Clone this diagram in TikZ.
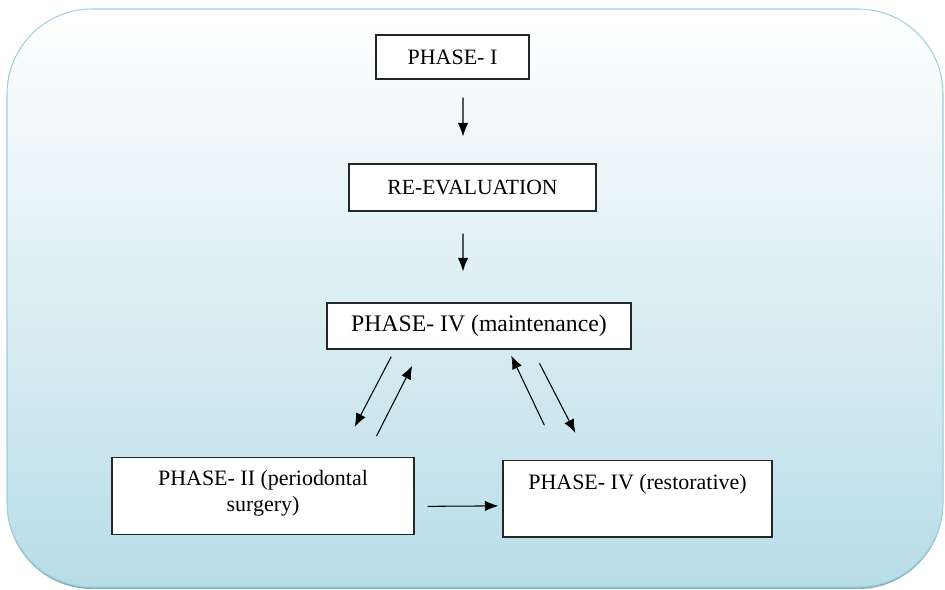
\documentclass[tikz,border=0pt]{standalone}
\usepackage{fontspec}
\setmainfont{Liberation Serif}
\usepackage{tikz}
\usetikzlibrary{arrows.meta,positioning,calc}
\definecolor{panelblue}{RGB}{184,221,232}
\definecolor{paneledge}{RGB}{160,208,221}
\definecolor{panelshadow}{RGB}{128,176,192}
\tikzset{
    phase/.style={rectangle, draw=black!85, fill=white, line width=0.7pt, inner sep=0pt, font=\fontsize{12.5}{14.5}\selectfont},
    phaseT/.style={phase, align=center, text height=16.5pt, text depth=27pt},
    link/.style={line width=0.6pt, black, -{Latex[length=0.27cm,width=0.21cm]}},
}

\begin{document}
\begin{tikzpicture}[x=0.02cm, y=-0.02cm]
    \useasboundingbox (0,0) rectangle (945,589);
    % panel behind the chart
    \fill[panelshadow, rounded corners=1.7cm] (7,11) rectangle (943,589);
    \shade[top color=white, middle color=panelblue!35, bottom color=panelblue, draw=paneledge, line width=0.6pt, rounded corners=1.7cm] (7,9) rectangle (943,587);

    \node[phase, minimum width=3.06cm, minimum height=0.88cm] (p1) at (452.5,57) {PHASE- I};
    \node[phase, minimum width=4.94cm, minimum height=0.94cm, font=\fontsize{12.3}{14}\selectfont] (reeval) at (472.5,187.5) {RE-EVALUATION};
    \node[phase, minimum width=6.08cm, minimum height=0.92cm, font=\fontsize{13.5}{16}\selectfont] (maint) at (479,326) {PHASE- IV (maintenance)};
    \node[phaseT, minimum width=6.04cm, text height=30.6pt, text depth=13pt, anchor=north] (surg) at (263,457) {PHASE- II (periodontal\\surgery)};
    \node[phaseT, minimum width=5.38cm, anchor=north] (restor) at (637.5,460) {PHASE- IV (restorative)};

    \draw[link, shorten <=0.36cm, shorten >=0.54cm] ([xshift=0.21cm]p1.south) -- ([xshift=-0.19cm]reeval.north);
    \draw[link, shorten <=0.44cm, shorten >=0.62cm] ([xshift=-0.19cm]reeval.south) -- ([xshift=-0.32cm]maint.north);

    % between maintenance and the two lower phases
    \draw[link, shorten <=0.16cm, shorten >=0.68cm] ([xshift=1.37cm]maint.south west) -- ([xshift=4.55cm]surg.north west);
    \draw[link, shorten <=0.47cm, shorten >=0.36cm] ([xshift=5.09cm]surg.north west) -- ([xshift=1.88cm]maint.south west);
    \draw[link, shorten <=0.77cm, shorten >=0.13cm] ([xshift=1.17cm]restor.north west) -- ([xshift=3.64cm]maint.south west);
    \draw[link, shorten <=0.31cm, shorten >=0.61cm] ([xshift=4.12cm]maint.south west) -- ([xshift=1.74cm]restor.north west);

    \draw[link, shorten <=0.26cm, shorten >=0.08cm] ([yshift=-0.21cm]surg.east) -- ([yshift=-0.14cm]restor.west);
\end{tikzpicture}
\end{document}
